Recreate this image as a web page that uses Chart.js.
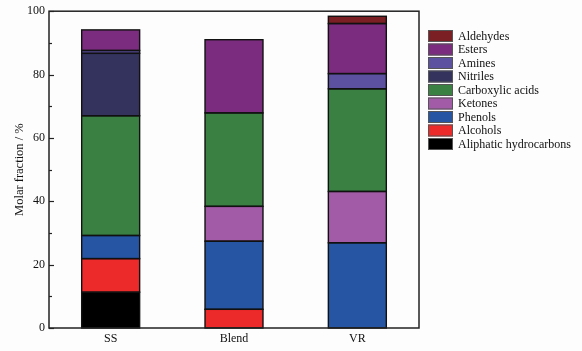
<!DOCTYPE html>
<html>
<head>
<meta charset="utf-8">
<script src="https://cdn.jsdelivr.net/npm/chart.js@4/dist/chart.umd.min.js"></script>
<style>
  html, body { margin: 0; padding: 0; background: #fdfdfd; }
  #wrap { width: 582px; height: 351px; }
</style>
</head>
<body>
<div id="wrap"><canvas id="grafico" width="582" height="351"></canvas></div>
<script>
// categorias y series (fraccion molar, %)
const muestras = ['SS', 'Blend', 'VR'];
const aliphatic = [11.3, 0, 0];
const alcohols = [10.6, 5.9, 0];
const phenols = [7.3, 21.5, 26.9];
const ketones = [0, 11.0, 16.2];
const carboxylic = [37.8, 29.5, 32.4];
const nitriles = [19.7, 0, 0];
const amines = [0.9, 0, 4.8];
const esters = [6.5, 23.1, 15.8];
const aldehydes = [0, 0, 2.3];
const yTicks = [0, 20, 40, 60, 80, 100];

const FONT = "'Liberation Serif', 'Times New Roman', serif";

const series = [
    { label: 'Aliphatic hydrocarbons', data: aliphatic, color: '#000000' },
    { label: 'Alcohols', data: alcohols, color: '#ec2a2a' },
    { label: 'Phenols', data: phenols, color: '#2555a3' },
    { label: 'Ketones', data: ketones, color: '#a25ba6' },
    { label: 'Carboxylic acids', data: carboxylic, color: '#3a8043' },
    { label: 'Nitriles', data: nitriles, color: '#33335e' },
    { label: 'Amines', data: amines, color: '#5c50a0' },
    { label: 'Esters', data: esters, color: '#7b2c7e' },
    { label: 'Aldehydes', data: aldehydes, color: '#7b1f24' }
];

// contornos de las barras, marco, ticks hacia dentro y leyenda
const extras = {
    id: 'extras',
    afterDatasetsDraw(chart) {
        const ctx = chart.ctx;
        ctx.save();
        ctx.strokeStyle = '#111';
        ctx.lineWidth = 1.4;
        chart.data.datasets.forEach((ds, i) => {
            chart.getDatasetMeta(i).data.forEach((bar, j) => {
                if (!ds.data[j]) return;
                const w = bar.width;
                ctx.strokeRect(bar.x - w / 2, bar.y, w, bar.base - bar.y);
            });
        });
        ctx.restore();
    },
    afterDraw(chart) {
        const ctx = chart.ctx;
        const a = chart.chartArea;
        const y = chart.scales.y;
        ctx.save();
        ctx.strokeStyle = '#222';
        ctx.lineWidth = 1.5;
        ctx.strokeRect(a.left, a.top, a.right - a.left, a.bottom - a.top);
        ctx.lineWidth = 1.2;
        for (let v = 0; v <= 100; v += 10) {
            const py = Math.round(y.getPixelForValue(v)) + 0.5;
            const len = v % 20 === 0 ? 5 : 3;
            ctx.beginPath();
            ctx.moveTo(a.left, py);
            ctx.lineTo(a.left + len, py);
            ctx.stroke();
        }
        // leyenda (orden inverso)
        ctx.font = '12px ' + FONT;
        ctx.textBaseline = 'middle';
        const items = chart.data.datasets.slice().reverse();
        items.forEach((ds, i) => {
            const top = 30 + i * 13.5;
            ctx.fillStyle = ds.backgroundColor;
            ctx.fillRect(428, top, 25, 12);
            ctx.strokeStyle = '#555';
            ctx.lineWidth = 1;
            ctx.strokeRect(428.5, top + 0.5, 24, 11);
            ctx.fillStyle = '#111';
            ctx.fillText(ds.label, 458, top + 6.5);
        });
        ctx.restore();
    }
};

const ctx = document.getElementById('grafico').getContext('2d');
const myChart = new Chart(ctx, {
    type: 'bar',
    data: {
        labels: muestras,
        datasets: series.map(s => ({
            label: s.label,
            data: s.data,
            backgroundColor: s.color,
            borderWidth: 0,
            inflateAmount: 0,
            barPercentage: 0.47,
            categoryPercentage: 1
        }))
    },
    options: {
        responsive: false,
        animation: false,
        layout: { padding: { top: 11, right: 163, left: 0, bottom: 0 } },
        plugins: {
            legend: { display: false },
            tooltip: { enabled: false }
        },
        scales: {
            x: {
                stacked: true,
                grid: { display: false, drawTicks: false },
                border: { display: false },
                ticks: { color: '#111', font: { family: FONT, size: 12 }, padding: 4 },
                afterFit(scale) { scale.height = 23; }
            },
            y: {
                stacked: true,
                min: 0,
                max: 100,
                grid: { display: false, drawTicks: false },
                border: { display: false },
                afterBuildTicks(scale) { scale.ticks = yTicks.map(v => ({ value: v })); },
                ticks: { color: '#111', font: { family: FONT, size: 12 }, padding: 4 },
                title: {
                    display: true,
                    text: 'Molar fraction / %',
                    color: '#111',
                    font: { family: FONT, size: 12.5 },
                    padding: { top: 12, bottom: 0 }
                },
                afterFit(scale) { scale.width = 49; }
            }
        }
    },
    plugins: [extras]
});
</script>
</body>
</html>
